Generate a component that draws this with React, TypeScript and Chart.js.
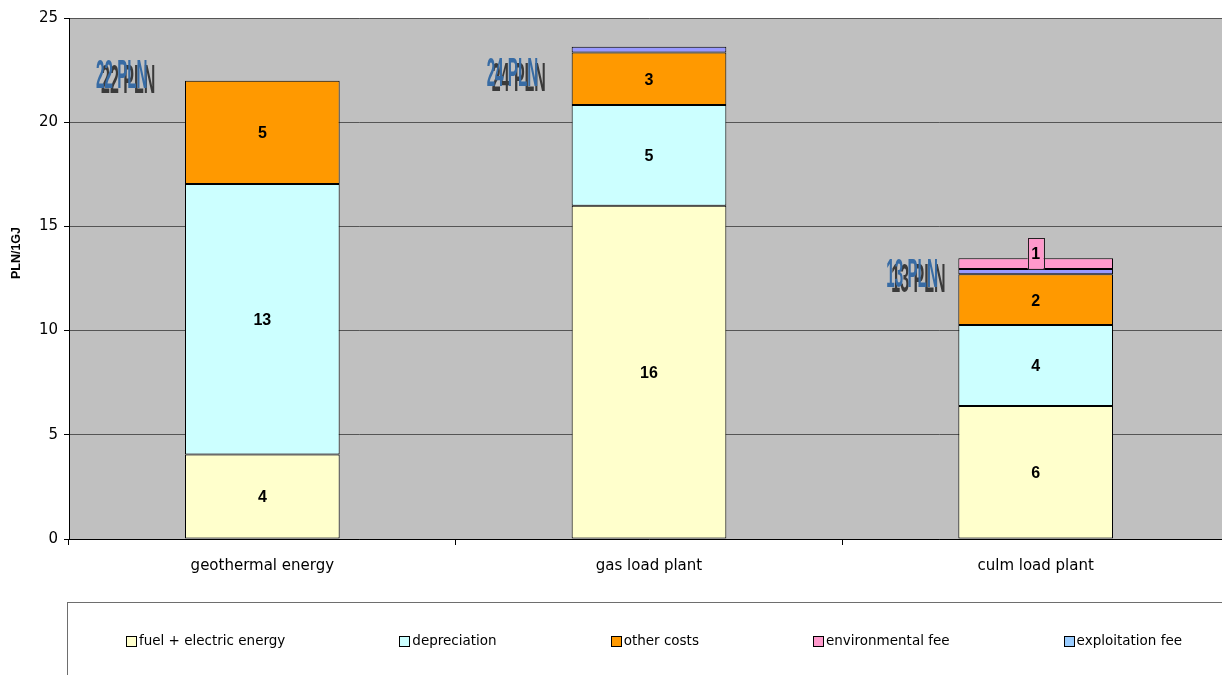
import React, { useEffect, useRef } from 'react';
import { Chart, registerables } from 'chart.js';

Chart.register(...registerables);

// ---------- data ----------
const categories = ['geothermal energy', 'gas load plant', 'culm load plant'];
const fuelElectric: (number | null)[] = [4.05, 15.99, 6.38];
const depreciation: (number | null)[] = [12.98, 4.84, 3.89];
const otherCosts: (number | null)[] = [4.96, 2.52, 2.43];
const exploitationFee: (number | null)[] = [null, 0.27, 0.26];
const environmentalFee: (number | null)[] = [null, null, 0.51];
const totalLabels = ['22 PLN', '24 PLN', '13 PLN'];
const totalLabelY = [23.0, 23.1, 13.45];
const yTickValues = [0, 5, 10, 15, 20, 25];
const legendLabels = ['fuel + electric energy', 'depreciation', 'other costs', 'environmental fee', 'exploitation fee'];
const legendColors = ['#FFFFCC', '#CCFFFF', '#FF9900', '#FF99CC', '#99CCFF'];
const yTitle = 'PLN/1GJ';

// ---------- layout constants ----------
const CANVAS_W = 1229; // plot area runs a little past the visible right edge
const CANVAS_H = 675;
const annotationDx = [-89, -85, -72];
const LEGEND_BOX = { left: 67.5, top: 602.5, width: 1173, height: 100, itemY: 641, gap: 114 };

const bgPlugin = {
  id: 'plotBg',
  beforeDraw(chart: any) {
    const { ctx, chartArea } = chart;
    ctx.save();
    ctx.fillStyle = '#C0C0C0';
    ctx.fillRect(chartArea.left, chartArea.top, chartArea.right - chartArea.left, chartArea.bottom - chartArea.top);
    ctx.restore();
  },
};

const labelsPlugin = {
  id: 'valueLabels',
  afterDatasetsDraw(chart: any) {
    const { ctx } = chart;
    ctx.save();
    ctx.font = 'bold 16px "Liberation Sans", Arial, sans-serif';
    ctx.textAlign = 'center';
    ctx.textBaseline = 'middle';
    chart.data.datasets.forEach((ds: any, di: number) => {
      const meta = chart.getDatasetMeta(di);
      meta.data.forEach((bar: any, i: number) => {
        const v = ds.data[i];
        if (v == null) return;
        if (ds.hideLabel) return;
        const txt = String(Math.round(v));
        if (ds.boxLabel) {
          const bw = 16, bh = 31;
          const bx = bar.x - bw / 2;
          const by = bar.base - bh;
          ctx.fillStyle = ds.backgroundColor;
          ctx.fillRect(bx, by, bw, bh);
          ctx.strokeStyle = '#222';
          ctx.lineWidth = 1;
          ctx.strokeRect(Math.round(bx) + 0.5, Math.round(by) + 0.5, bw, bh);
          ctx.fillStyle = '#000';
          ctx.fillText(txt, bar.x, by + bh / 2 + 1);
        } else {
          ctx.fillStyle = '#000';
          ctx.fillText(txt, bar.x, (bar.y + bar.base) / 2 + 1.5);
        }
      });
    });
    ctx.restore();
  },
};

const decorPlugin = {
  id: 'decor',
  afterDraw(chart: any) {
    const { ctx, scales } = chart;
    const yScale = scales.y;
    const meta0 = chart.getDatasetMeta(0);

    // total annotations (shadowed condensed text)
    ctx.save();
    ctx.font = 'bold 40px "Liberation Sans", Arial, sans-serif';
    ctx.textBaseline = 'alphabetic';
    ctx.textAlign = 'left';
    const cap = 40 * 0.716;
    totalLabels.forEach((t, i) => {
      const bar = meta0.data[i];
      const left = bar.x - bar.width / 2 + annotationDx[i];
      const top = yScale.getPixelForValue(totalLabelY[i]);
      ctx.save();
      ctx.translate(left + 5, top + cap + 5);
      ctx.scale(0.4, 1);
      ctx.fillStyle = '#3a3a3a';
      ctx.fillText(t, 0, 0);
      ctx.restore();
      ctx.save();
      ctx.translate(left, top + cap);
      ctx.scale(0.38, 1);
      ctx.fillStyle = '#376ba4';
      ctx.fillText(t, 0, 0);
      ctx.restore();
    });
    ctx.restore();

    // y axis title
    ctx.save();
    ctx.translate(17, 253);
    ctx.rotate(-Math.PI / 2);
    ctx.font = 'bold 12.5px "Liberation Sans", Arial, sans-serif';
    ctx.textAlign = 'center';
    ctx.textBaseline = 'middle';
    ctx.fillStyle = '#000';
    ctx.fillText(yTitle, 0, 0);
    ctx.restore();

    // legend box and items
    ctx.save();
    ctx.strokeStyle = '#6e6e6e';
    ctx.lineWidth = 1;
    ctx.strokeRect(LEGEND_BOX.left, LEGEND_BOX.top, LEGEND_BOX.width, LEGEND_BOX.height);
    ctx.font = '13.5px "DejaVu Sans", sans-serif';
    ctx.textBaseline = 'middle';
    ctx.textAlign = 'left';
    const box = 11;
    const widths = legendLabels.map((l) => box + 2 + ctx.measureText(l).width);
    const total = widths.reduce((a, b) => a + b, 0) + LEGEND_BOX.gap * (legendLabels.length - 1);
    let x = LEGEND_BOX.left + LEGEND_BOX.width / 2 - total / 2;
    const cy = LEGEND_BOX.itemY;
    legendLabels.forEach((l, i) => {
      ctx.fillStyle = legendColors[i];
      ctx.fillRect(Math.round(x), Math.round(cy - box / 2), box, box);
      ctx.strokeStyle = '#000';
      ctx.strokeRect(Math.round(x) + 0.5, Math.round(cy - box / 2) + 0.5, box - 1, box - 1);
      ctx.fillStyle = '#000';
      ctx.fillText(l, x + box + 2, cy);
      x += widths[i] + LEGEND_BOX.gap;
    });
    ctx.restore();
  },
};

export default function App() {
  const canvasRef = useRef<HTMLCanvasElement | null>(null);

  useEffect(() => {
    if (!canvasRef.current) return;
    const mk = (label: string, data: (number | null)[], color: string, extra: any = {}) => ({
      label,
      data,
      backgroundColor: color,
      borderColor: '#000',
      borderWidth: 1,
      borderSkipped: false,
      barPercentage: 0.4,
      categoryPercentage: 1,
      ...extra,
    });
    const chart = new Chart(canvasRef.current, {
      type: 'bar',
      data: {
        labels: categories,
        datasets: [
          mk('fuel + electric energy', fuelElectric, '#FFFFCC'),
          mk('depreciation', depreciation, '#CCFFFF'),
          mk('other costs', otherCosts, '#FF9900'),
          mk('exploitation fee', exploitationFee, '#9999FF', { hideLabel: true }),
          mk('environmental fee', environmentalFee, '#FF99CC', { boxLabel: true }),
        ] as any,
      },
      options: {
        responsive: false,
        animation: false,
        devicePixelRatio: 1,
        layout: { padding: { top: 18, right: 0, bottom: 0, left: 0 } },
        plugins: {
          legend: { display: false },
          tooltip: { enabled: false },
          title: { display: false },
        },
        scales: {
          x: {
            stacked: true,
            grid: {
              display: true,
              drawOnChartArea: false,
              drawTicks: true,
              tickLength: 6,
              color: '#000',
              offset: true,
            },
            border: { color: '#000', width: 1 },
            ticks: {
              font: { family: '"DejaVu Sans", sans-serif', size: 15 },
              color: '#000',
              padding: 12,
            },
            afterFit: (s: any) => {
              s.height = 136;
            },
          },
          y: {
            stacked: true,
            min: 0,
            max: 25,
            afterBuildTicks: (s: any) => {
              s.ticks = yTickValues.map((v) => ({ value: v }));
            },
            grid: {
              color: '#555555',
              lineWidth: 1,
              tickLength: 5,
              tickColor: '#000',
            },
            border: { color: '#000', width: 1 },
            ticks: {
              font: { family: '"DejaVu Sans", sans-serif', size: 15 },
              color: '#000',
              padding: 6,
            },
            afterFit: (s: any) => {
              s.width = 69;
            },
          },
        },
      } as any,
      plugins: [bgPlugin, labelsPlugin, decorPlugin],
    });
    return () => chart.destroy();
  }, []);

  return (
    <div style={{ position: 'fixed', left: 0, top: 0, width: 1222, height: CANVAS_H, overflow: 'hidden', background: '#fff' }}>
      <canvas
        ref={canvasRef}
        width={CANVAS_W}
        height={CANVAS_H}
        style={{ width: CANVAS_W, height: CANVAS_H, display: 'block' }}
      />
    </div>
  );
}
